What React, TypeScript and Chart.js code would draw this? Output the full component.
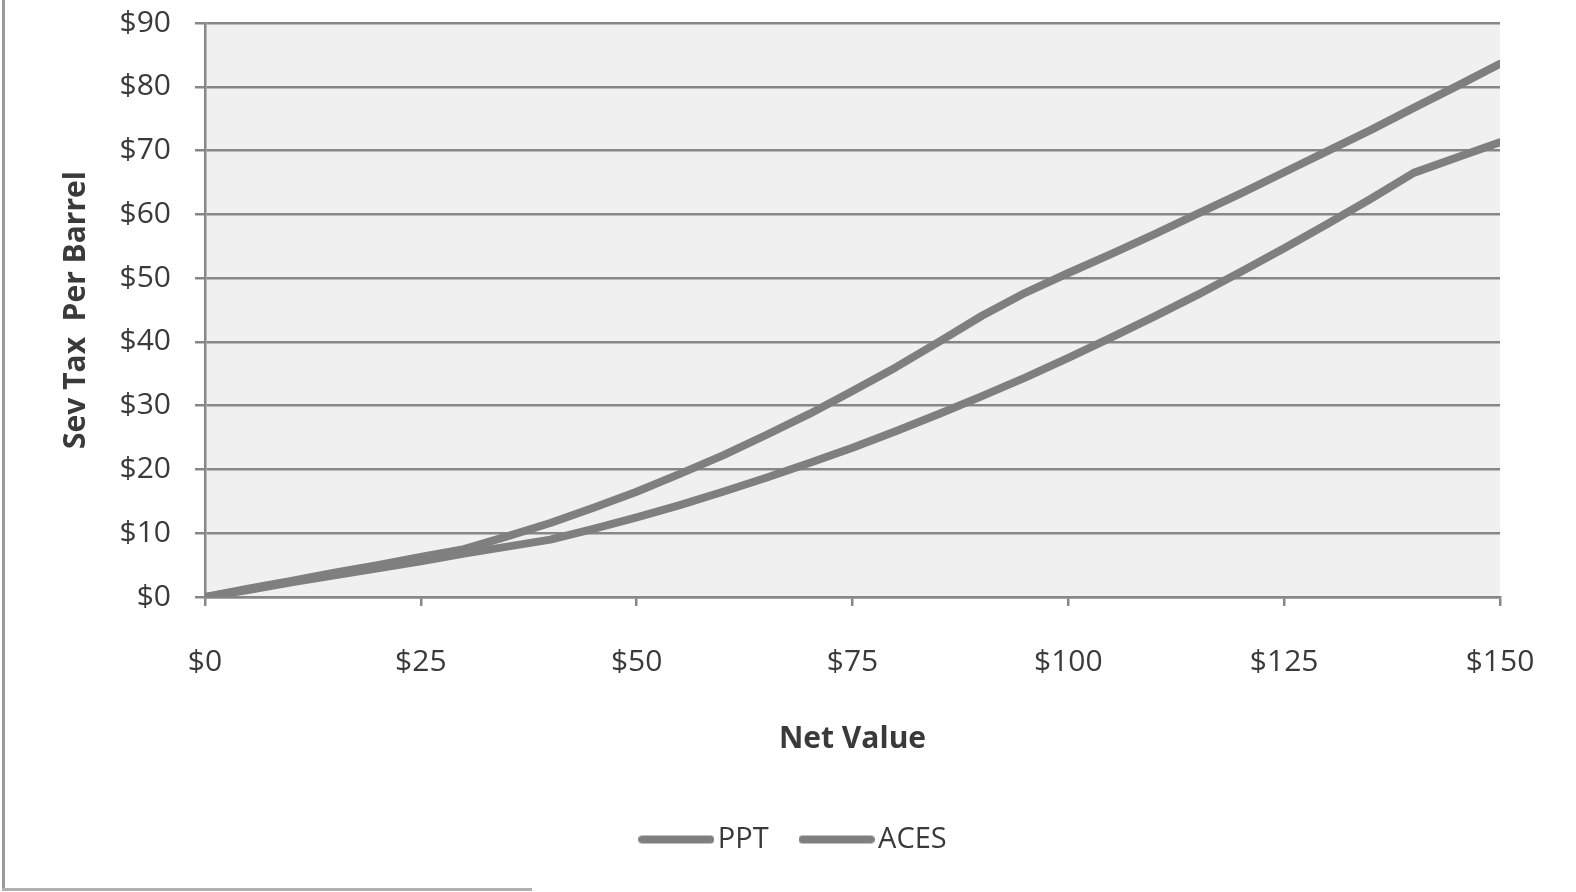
import React, { useEffect, useRef } from "react";
import { Chart, registerables } from "chart.js";

Chart.register(...registerables);

const netValue = [0, 5, 10, 15, 20, 25, 30, 35, 40, 45, 50, 55, 60, 65, 70, 75, 80, 85, 90, 95, 100, 105, 110, 115, 120, 125, 130, 135, 140, 145, 150];
const pptValues = [0, 1.1, 2.3, 3.4, 4.5, 5.6, 6.8, 7.9, 9.0, 10.7, 12.5, 14.4, 16.5, 18.7, 21.0, 23.4, 26.0, 28.7, 31.5, 34.4, 37.5, 40.7, 44.0, 47.4, 51.0, 54.7, 58.5, 62.4, 66.5, 68.9, 71.3];
const acesValues = [0, 1.3, 2.5, 3.8, 5.0, 6.3, 7.5, 9.5, 11.6, 14.0, 16.5, 19.3, 22.2, 25.4, 28.7, 32.3, 36.0, 40.0, 44.1, 47.7, 50.8, 53.8, 56.9, 60.1, 63.3, 66.6, 69.9, 73.2, 76.7, 80.1, 83.6];
const seriesNames = ["PPT", "ACES"];
const xTitle = "Net Value";
const yTitle = "Sev Tax  Per Barrel";

const LINE = "#7f7f7f";
const GRID = "#878787";
const TEXT = "#3a3a3a";
const FONT = "'Open Sans', 'Noto Sans', sans-serif";

const bgPlugin = {
  id: "plotBg",
  beforeDraw(chart: any) {
    const { ctx, chartArea } = chart;
    if (!chartArea) return;
    ctx.save();
    ctx.fillStyle = "#f0f0f0";
    ctx.fillRect(chartArea.left, chartArea.top, chartArea.right - chartArea.left, chartArea.bottom - chartArea.top);
    ctx.restore();
  },
};

const legendShift = {
  id: "legendShift",
  afterLayout(chart: any) {
    if (chart.legend) {
      chart.legend.left += 48;
      chart.legend.right += 48;
    }
  },
};

export default function App() {
  const ref = useRef<HTMLCanvasElement | null>(null);

  useEffect(() => {
    if (!ref.current) return;
    const swatch = document.createElement("canvas");
    swatch.width = 76;
    swatch.height = 10;
    const sctx = swatch.getContext("2d");
    if (sctx) {
      sctx.strokeStyle = LINE;
      sctx.lineWidth = 8;
      sctx.lineCap = "round";
      sctx.beginPath();
      sctx.moveTo(4, 5);
      sctx.lineTo(72, 5);
      sctx.stroke();
    }
    const toPts = (vals: number[]) => vals.map((v, i) => ({ x: netValue[i], y: v }));
    const mk = (label: string, vals: number[]) => ({
      label,
      data: toPts(vals),
      borderColor: LINE,
      backgroundColor: LINE,
      borderWidth: 8,
      pointRadius: 0,
      tension: 0,
      borderCapStyle: "round",
      borderJoinStyle: "round",
    });
    const chart = new Chart(ref.current, {
      type: "line",
      data: {
        datasets: [mk(seriesNames[0], pptValues), mk(seriesNames[1], acesValues)],
      },
      options: {
        animation: false,
        responsive: false,
        maintainAspectRatio: false,
        layout: { padding: { left: 0, top: 23, right: 76, bottom: 28 } },
        plugins: {
          tooltip: { enabled: false },
          legend: {
            position: "bottom",
            labels: {
              color: TEXT,
              font: { family: FONT, size: 29 },
              usePointStyle: true,
              pointStyleWidth: 54,
              boxHeight: 8,
              padding: 41,
              generateLabels: (chart: any) =>
                chart.data.datasets.map((d: any, i: number) => ({
                  text: d.label,
                  fillStyle: LINE,
                  strokeStyle: LINE,
                  lineWidth: 0,
                  hidden: false,
                  datasetIndex: i,
                  fontColor: TEXT,
                  pointStyle: swatch,
                })),
            },
          },
        },
        scales: {
          x: {
            type: "linear",
            min: 0,
            max: 150,
            afterFit: (s: any) => {
              s.height = 187;
            },
            ticks: {
              stepSize: 25,
              color: TEXT,
              font: { family: FONT, size: 30 },
              padding: 38,
              maxRotation: 0,
              callback: (v: any) => "$" + v,
            },
            grid: { drawOnChartArea: false, drawTicks: true, tickLength: 9, color: GRID, lineWidth: 2.5 },
            border: { display: true, color: GRID, width: 2.5 },
            title: {
              display: true,
              text: xTitle,
              color: TEXT,
              font: { family: FONT, size: 30, weight: "bold" },
              padding: { top: 0, bottom: 27 },
            },
          },
          y: {
            min: 0,
            max: 90,
            afterFit: (s: any) => {
              s.width = 205;
              s.paddingTop = 0;
              s.paddingBottom = 0;
            },
            ticks: {
              stepSize: 10,
              color: TEXT,
              font: { family: FONT, size: 30 },
              padding: 24,
              callback: (v: any) => "$" + v,
            },
            grid: { color: GRID, lineWidth: 2.5, tickLength: 10, drawTicks: true },
            border: { display: true, color: GRID, width: 2.5 },
            title: {
              display: true,
              text: yTitle,
              color: TEXT,
              font: { family: FONT, size: 30, weight: "bold" },
              padding: { top: 58, bottom: 0 },
            },
          },
        },
      },
      plugins: [bgPlugin, legendShift],
    } as any);
    return () => chart.destroy();
  }, []);

  return (
    <div style={{ position: "fixed", left: 0, top: 0, width: 1576, height: 892, background: "#fff", overflow: "hidden" }}>
      <canvas ref={ref} width={1576} height={892} style={{ position: "absolute", left: 0, top: 0, width: 1576, height: 892 }} />
      <div style={{ position: "absolute", left: 2, top: 0, width: 3, height: 891, background: "#9a9a9a" }} />
      <div style={{ position: "absolute", left: 2, top: 888, width: 530, height: 3, background: "#b0b0b0" }} />
    </div>
  );
}
